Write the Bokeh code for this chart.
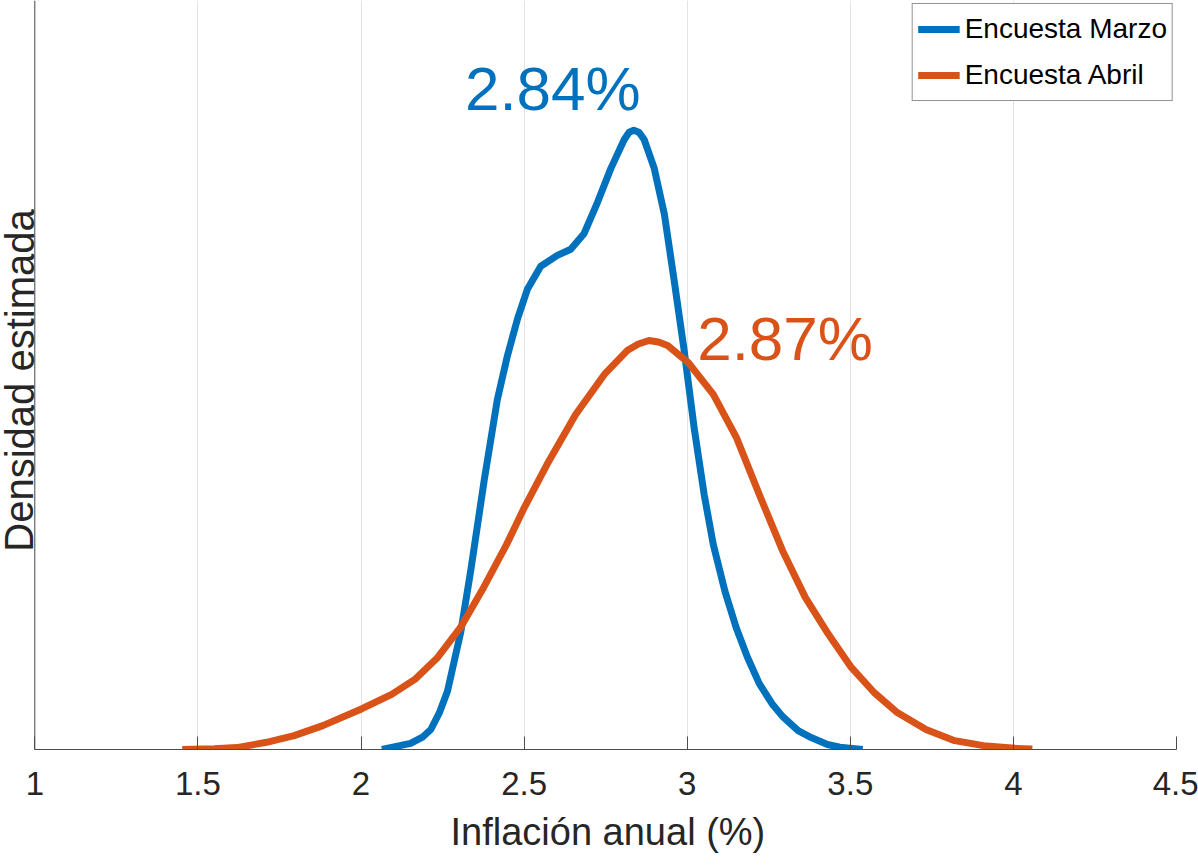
from bokeh.plotting import figure
from bokeh.models import Range1d, FixedTicker, Label, Span, Title
from bokeh.embed import file_html
from bokeh.resources import INLINE

# ---- data ----
marzo_x = [2.064, 2.152, 2.190, 2.214, 2.240, 2.265, 2.306, 2.337, 2.378, 2.418,
           2.449, 2.480, 2.510, 2.551, 2.602, 2.643, 2.684, 2.725, 2.766, 2.807,
           2.822, 2.836, 2.852, 2.868, 2.899, 2.930, 2.960, 2.991, 3.022, 3.052,
           3.080, 3.116, 3.150, 3.185, 3.221, 3.260, 3.292, 3.340, 3.380, 3.430,
           3.468, 3.538]
marzo_y = [0.000, 0.016, 0.033, 0.052, 0.095, 0.151, 0.306, 0.468, 0.701, 0.909,
           1.023, 1.119, 1.195, 1.255, 1.283, 1.299, 1.340, 1.421, 1.509, 1.584,
           1.603, 1.608, 1.603, 1.584, 1.509, 1.390, 1.218, 1.034, 0.831, 0.662,
           0.532, 0.410, 0.317, 0.239, 0.171, 0.119, 0.086, 0.049, 0.031, 0.013,
           0.006, 0.000]

abril_x = [1.452, 1.550, 1.619, 1.707, 1.795, 1.883, 2.003, 2.094, 2.165, 2.235,
           2.305, 2.376, 2.446, 2.501, 2.570, 2.658, 2.746, 2.816, 2.850, 2.883,
           2.912, 2.940, 3.003, 3.080, 3.151, 3.221, 3.292, 3.362, 3.433, 3.503,
           3.573, 3.644, 3.732, 3.820, 3.908, 4.005, 4.058]
abril_y = [0.000, 0.002, 0.005, 0.018, 0.036, 0.062, 0.106, 0.143, 0.182, 0.239,
           0.317, 0.421, 0.532, 0.629, 0.740, 0.870, 0.974, 1.036, 1.053, 1.062,
           1.058, 1.049, 1.005, 0.922, 0.810, 0.662, 0.517, 0.395, 0.299, 0.213,
           0.148, 0.096, 0.052, 0.023, 0.010, 0.003, 0.001]

series_names = ["Encuesta Marzo", "Encuesta Abril"]
peak_labels = ["2.84%", "2.87%"]
peak_label_x = [2.588, 3.300]
peak_label_y = [1.716, 1.067]

x_ticks = [1, 1.5, 2, 2.5, 3, 3.5, 4, 4.5]
x_tick_labels = ["1", "1.5", "2", "2.5", "3", "3.5", "4", "4.5"]
x_title = "Inflación anual (%)"
y_title = "Densidad estimada"

BLUE = "#0072BD"
ORANGE = "#D95319"
AX = "#262626"
AXLINE = "#4d4d4d"
FONT = "Liberation Sans, Arial, Helvetica, sans-serif"

p = figure(width=1198, height=865,
           x_range=Range1d(0.8948, 4.5), y_range=Range1d(0, 1.945),
           y_axis_location=None,
           output_backend="svg", toolbar_location=None,
           min_border_left=0, min_border_right=22,
           min_border_top=0, min_border_bottom=116)
p.outline_line_color = None
p.background_fill_color = "white"
p.border_fill_color = "white"

# x axis
p.xaxis.bounds = (1, 4.5)
p.xaxis.ticker = FixedTicker(ticks=x_ticks)
p.xaxis.major_label_overrides = {t: s for t, s in zip(x_ticks, x_tick_labels)}
p.xaxis.major_tick_in = 13
p.xaxis.major_tick_out = 0
p.xaxis.minor_tick_in = 0
p.xaxis.minor_tick_out = 0
p.xaxis.axis_line_color = AXLINE
p.xaxis.major_tick_line_color = AXLINE
p.xaxis.major_label_text_font = FONT
p.xaxis.major_label_text_font_size = "33px"
p.xaxis.major_label_text_color = AX
p.xaxis.major_label_standoff = 22

# x axis title, centred under the axis span (1 .. 4.5) as in the reference
p.add_layout(Title(text=x_title, align="left", offset=450,
                   text_font=FONT, text_font_size="38px", text_font_style="normal",
                   text_color=AX, standoff=22), "below")

# grid
p.xgrid.ticker = FixedTicker(ticks=x_ticks)
p.xgrid.grid_line_color = "#e3e3e3"
p.xgrid.grid_line_width = 1
p.ygrid.visible = False

# left axis line at x = 1
p.add_layout(Span(location=x_ticks[0], dimension="height",
                  line_color=AXLINE, line_width=1))

# curves
p.line(marzo_x, marzo_y, line_color=BLUE, line_width=7, line_join="round",
       line_cap="butt", legend_label=series_names[0])
p.line(abril_x, abril_y, line_color=ORANGE, line_width=7, line_join="round",
       line_cap="butt", legend_label=series_names[1])

# peak labels
for txt, xx, yy, col in zip(peak_labels, peak_label_x, peak_label_y, [BLUE, ORANGE]):
    p.add_layout(Label(x=xx, y=yy, text=txt, text_align="center",
                       text_baseline="alphabetic", text_color=col,
                       text_font=FONT, text_font_size="62px"))

# y axis title
p.add_layout(Label(x=19, y=369, x_units="screen", y_units="screen",
                   text=y_title, angle=1.5707963,
                   text_align="center", text_baseline="middle",
                   text_color=AX, text_font=FONT, text_font_size="40px"))

# legend
lg = p.legend[0]
lg.location = "top_right"
lg.margin = 3
lg.padding = 5
lg.spacing = 6
lg.glyph_width = 42
lg.glyph_height = 40
lg.label_height = 40
lg.label_standoff = 5
lg.border_line_color = AX
lg.border_line_width = 1
lg.background_fill_color = "white"
lg.background_fill_alpha = 1
lg.label_text_font = FONT
lg.label_text_font_size = "28px"
lg.label_text_color = "black"

open("out.html", "w").write(file_html(p, INLINE))
